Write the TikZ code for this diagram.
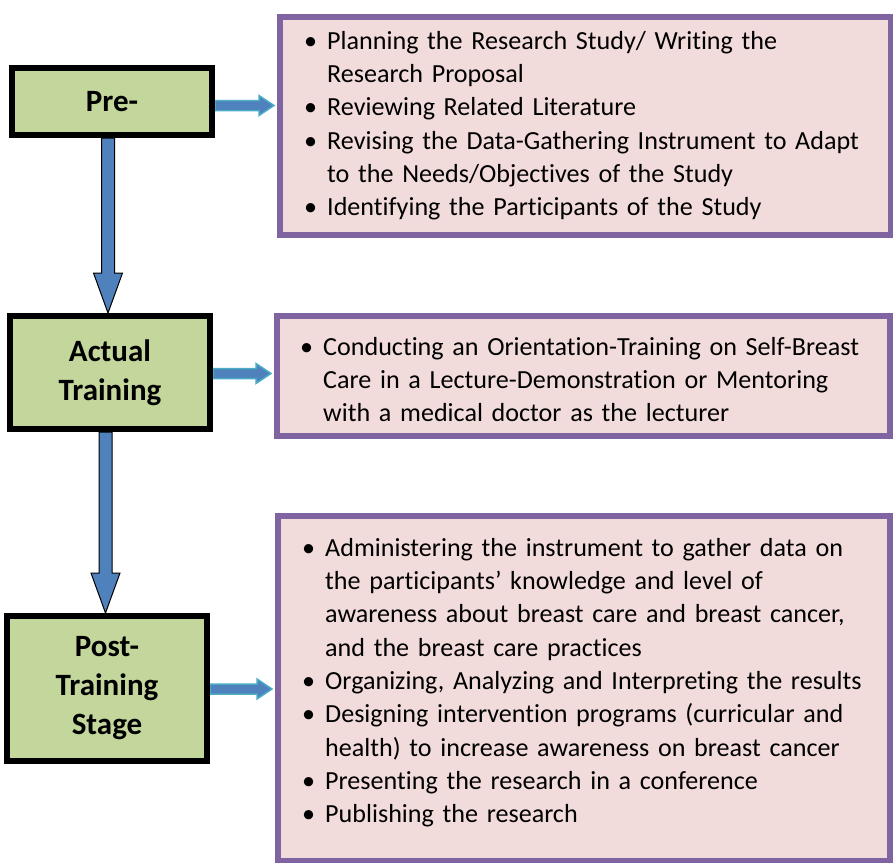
\documentclass[tikz,border=0pt]{standalone}
\usepackage{fontspec}
\setmainfont{Carlito}[Ligatures=NoCommon]
\usetikzlibrary{calc,backgrounds}

\definecolor{stagegreen}{HTML}{C3D69B}
\definecolor{taskpink}{HTML}{F2DCDB}
\definecolor{taskpurple}{HTML}{8064A2}
\definecolor{arrowblue}{HTML}{4F81BD}
\definecolor{arrowrim}{HTML}{4BACC6}

\newenvironment{tasklist}{%
  \begin{list}{\textbullet}{%
    \setlength{\leftmargin}{27pt}\setlength{\labelwidth}{14pt}%
    \setlength{\labelsep}{10pt}\setlength{\itemsep}{0pt}%
    \setlength{\parsep}{0pt}\setlength{\topsep}{0pt}%
    \setlength{\partopsep}{0pt}}}%
  {\end{list}}

% block arrow down: from node, to node, x of the shaft
\newcommand{\stagearrow}[3]{%
  \path[vblock] let \p1=(#1.south), \p2=(#2.north) in
    (#3pt-6.5pt,\y1) -- (#3pt+6.5pt,\y1) -- (#3pt+6.5pt,\y2+40pt)
    -- (#3pt+14.5pt,\y2+40pt) -- (#3pt,\y2) -- (#3pt-14.5pt,\y2+40pt)
    -- (#3pt-6.5pt,\y2+40pt) -- cycle;}
% block arrow right: from node, to node, y of the shaft
\newcommand{\taskarrow}[3]{%
  \path[hblock] let \p1=(#1.east), \p2=(#2.west) in
    (\x1,-#3pt+5pt) -- (\x2-18pt,-#3pt+5pt) -- (\x2-18pt,-#3pt+10pt)
    -- (\x2-3pt,-#3pt) -- (\x2-18pt,-#3pt-10pt) -- (\x2-18pt,-#3pt-5pt)
    -- (\x1,-#3pt-5pt) -- cycle;}

\begin{document}
\begin{tikzpicture}[
	x = 1pt, y = -1pt,
	stage/.style = {draw=black, line width=6pt, fill=stagegreen, inner sep=0pt,
		align=center, font=\fontsize{31}{39}\selectfont\bfseries},
	task/.style = {draw=taskpurple, line width=6pt, fill=taskpink, inner sep=0pt},
	tasktext/.style = {anchor=base west, inner sep=0pt, text width=585pt,
		font=\fontsize{26.1}{33.3}\selectfont},
	vblock/.style = {fill=arrowblue, draw=black, line width=1pt},
	hblock/.style = {fill=arrowblue, draw=arrowrim, line width=1.5pt}
	]
	\useasboundingbox (0,0) rectangle (893,862);

	% stages
	\node[stage, minimum width=200pt, minimum height=67pt] (pre) at (112,101.5) {Pre-};
	\node[stage, minimum width=200pt, minimum height=113pt] (actual) at (110,372.5) {Actual\\Training};
	\node[stage, minimum width=200pt, minimum height=145pt] (post) at (107,688.5) {Post-\\Training\\Stage};

	% tasks
	\node[task, minimum width=611pt, minimum height=218pt] (pretasks) at (585.5,126) {};
	\node[task, minimum width=613pt, minimum height=120.5pt] (actualtasks) at (583.5,375.75) {};
	\node[task, minimum width=612pt, minimum height=345pt] (posttasks) at (584,688) {};

	\node[tasktext] (pretext) at (300,16) {\begin{tasklist}
		\item Planning the Research Study/ Writing the\\Research Proposal
		\item Reviewing Related Literature
		\item Revising the Data-Gathering Instrument to Adapt\\to the Needs/Objectives of the Study
		\item Identifying the Participants of the Study
	\end{tasklist}};
	\node[tasktext] (actualtext) at (296,322) {\begin{tasklist}
		\item Conducting an Orientation-Training on Self-Breast\\Care in a Lecture-Demonstration or Mentoring\\with a medical doctor as the lecturer
	\end{tasklist}};
	\node[tasktext] (posttext) at (298,523) {\begin{tasklist}
		\item Administering the instrument to gather data on\\the participants’ knowledge and level of\\awareness about breast care and breast cancer,\\and the breast care practices
		\item Organizing, Analyzing and Interpreting the results
		\item Designing intervention programs (curricular and\\health) to increase awareness on breast cancer
		\item Presenting the research in a conference
		\item Publishing the research
	\end{tasklist}};

	\begin{scope}[on background layer]
	\stagearrow{pre}{actual}{108}
	\stagearrow{actual}{post}{105.5}
	\taskarrow{pre}{pretasks}{105.5}
	\taskarrow{actual}{actualtasks}{373.5}
	\taskarrow{post}{posttasks}{689}
	\end{scope}
\end{tikzpicture}
\end{document}
